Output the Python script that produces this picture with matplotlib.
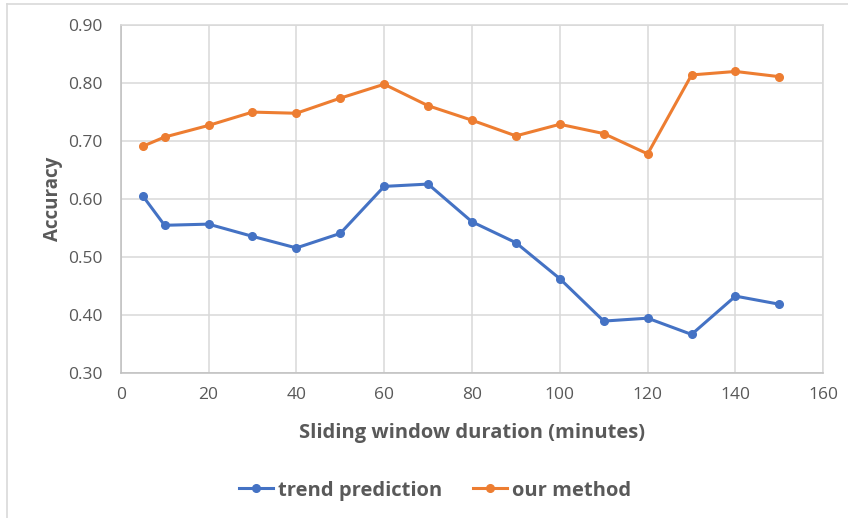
import matplotlib.pyplot as plt
from matplotlib.lines import Line2D

# window durations (minutes) and accuracy of the two methods
durations = [5, 10, 20, 30, 40, 50, 60, 70, 80, 90, 100, 110, 120, 130, 140, 150]
trend_acc = [0.606, 0.555, 0.557, 0.536, 0.516, 0.541, 0.622, 0.626,
             0.561, 0.525, 0.463, 0.390, 0.395, 0.367, 0.433, 0.419]
our_acc = [0.691, 0.707, 0.727, 0.750, 0.748, 0.774, 0.798, 0.761,
           0.736, 0.709, 0.729, 0.713, 0.678, 0.814, 0.820, 0.811]

x_ticks = [0, 20, 40, 60, 80, 100, 120, 140, 160]
y_ticks = [0.30, 0.40, 0.50, 0.60, 0.70, 0.80, 0.90]

BLUE = '#4472C4'
ORANGE = '#ED7D31'
TEXT = '#595959'
GRID = '#D9D9D9'

plt.rcParams['font.family'] = ['Open Sans', 'DejaVu Sans']

fig = plt.figure(figsize=(8.48, 5.18), dpi=100)
ax = fig.add_axes([0.1423, 0.2793, 0.8286, 0.6724])

ax.plot(durations, trend_acc, color=BLUE, lw=2.2, marker='o', ms=5.5,
        label='trend prediction', zorder=3)
ax.plot(durations, our_acc, color=ORANGE, lw=2.2, marker='o', ms=5.5,
        label='our method', zorder=3)

ax.set_xlim(0, 160)
ax.set_ylim(0.30, 0.90)
ax.set_xticks(x_ticks)
ax.set_yticks(y_ticks)
ax.set_yticklabels([f'{v:.2f}' for v in y_ticks])
ax.tick_params(length=0, labelsize=12.5, colors=TEXT)
ax.tick_params(axis='x', pad=10)
ax.tick_params(axis='y', pad=13)
ax.grid(True, color=GRID, lw=1.1)
ax.set_axisbelow(True)
for side in ['top', 'right']:
    ax.spines[side].set_color(GRID)
    ax.spines[side].set_linewidth(1.1)
for side in ['left', 'bottom']:
    ax.spines[side].set_color('#BFBFBF')
    ax.spines[side].set_linewidth(1.1)

ax.set_xlabel('Sliding window duration (minutes)', fontsize=14.5,
              fontweight='bold', color=TEXT, labelpad=14)
ax.set_ylabel('Accuracy', fontsize=13.5, fontweight='bold', color=TEXT,
              labelpad=4)

handles = [Line2D([], [], color=BLUE, lw=2.2, marker='o', ms=5.5),
           Line2D([], [], color=ORANGE, lw=2.2, marker='o', ms=5.5)]
fig.legend(handles, ['trend prediction', 'our method'], loc='center',
           bbox_to_anchor=(0.513, 0.053), ncol=2, frameon=False,
           prop={'size': 14.5, 'weight': 'bold'}, labelcolor=TEXT,
           handlelength=1.7, handletextpad=0.25, columnspacing=1.5)

# chart frame along the top and left edge
fig.add_artist(Line2D([7 / 848, 7 / 848], [0, 1 - 4 / 518],
                      transform=fig.transFigure, color=GRID, lw=1.2))
fig.add_artist(Line2D([7 / 848, 1], [1 - 4 / 518, 1 - 4 / 518],
                      transform=fig.transFigure, color=GRID, lw=1.2))

fig.savefig('out.png', dpi=100)
